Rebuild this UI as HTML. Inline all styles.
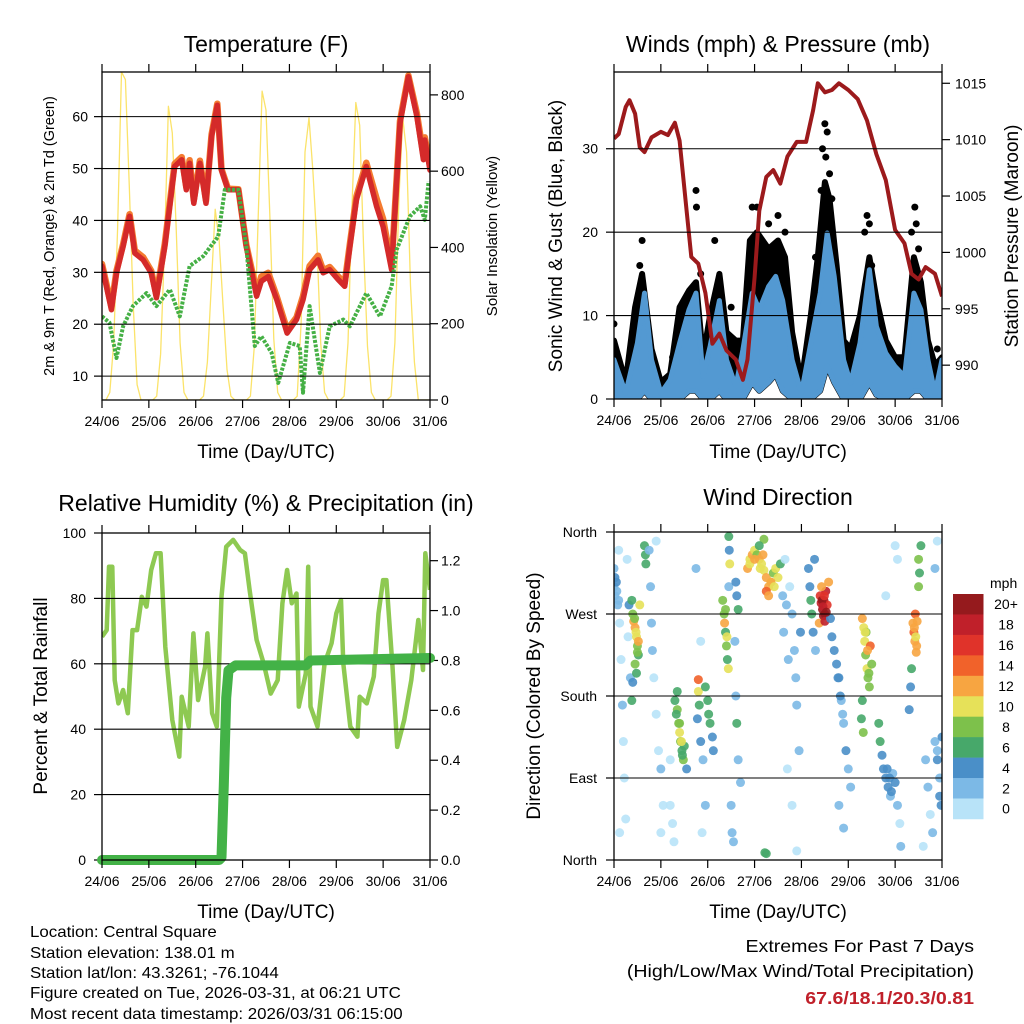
<!DOCTYPE html>
<html><head><meta charset="utf-8"><title>Weather station plots</title>
<style>
html,body{margin:0;padding:0;background:#fff;}
svg{display:block;font-family:"Liberation Sans",sans-serif;}
</style></head>
<body>
<svg id="fig" width="1024" height="1024" viewBox="0 0 1024 1024" xmlns="http://www.w3.org/2000/svg">
<rect x="0" y="0" width="1024" height="1024" fill="#fff"/>
<text x="266" y="52" font-size="23" text-anchor="middle">Temperature (F)</text>
<text x="778" y="52" font-size="23" text-anchor="middle">Winds (mph) &amp; Pressure (mb)</text>
<text x="266" y="511" font-size="23" text-anchor="middle">Relative Humidity (%) &amp; Precipitation (in)</text>
<text x="778" y="505" font-size="23" text-anchor="middle">Wind Direction</text>

<text x="266" y="458" font-size="19" text-anchor="middle">Time (Day/UTC)</text>
<text x="778" y="458" font-size="19" text-anchor="middle">Time (Day/UTC)</text>
<text x="266" y="918" font-size="19" text-anchor="middle">Time (Day/UTC)</text>
<text x="778" y="918" font-size="19" text-anchor="middle">Time (Day/UTC)</text>

<text transform="translate(54,236) rotate(-90)" font-size="14.5" text-anchor="middle">2m &amp; 9m T (Red, Orange) &amp; 2m Td (Green)</text>
<text transform="translate(497,236) rotate(-90)" font-size="15" text-anchor="middle">Solar Insolation (Yellow)</text>
<text transform="translate(562,236) rotate(-90)" font-size="19" text-anchor="middle">Sonic Wind &amp; Gust (Blue, Black)</text>
<text transform="translate(1018,236) rotate(-90)" font-size="19" text-anchor="middle">Station Pressure (Maroon)</text>
<text transform="translate(47,696) rotate(-90)" font-size="19" text-anchor="middle">Percent &amp; Total Rainfall</text>
<text transform="translate(540,696) rotate(-90)" font-size="19" text-anchor="middle">Direction (Colored By Speed)</text>

<g font-size="15.5" transform="translate(30,0) scale(1.09,1)">
<text x="0" y="937">Location: Central Square</text>
<text x="0" y="958">Station elevation: 138.01 m</text>
<text x="0" y="978">Station lat/lon: 43.3261; -76.1044</text>
<text x="0" y="998">Figure created on Tue, 2026-03-31, at 06:21 UTC</text>
<text x="0" y="1019">Most recent data timestamp: 2026/03/31 06:15:00</text>
</g>
<g font-size="17.5" text-anchor="end" transform="translate(974,0) scale(1.12,1)">
<text x="0" y="952">Extremes For Past 7 Days</text>
<text x="0" y="977">(High/Low/Max Wind/Total Precipitation)</text>
<text x="0" y="1004" fill="#c0202a" font-weight="bold">67.6/18.1/20.3/0.81</text>
</g>
</svg>
<script>
// ---------- DATA ----------
const dayLabels = ["24/06","25/06","26/06","27/06","28/06","29/06","30/06","31/06"];
const tempTicks = [10,20,30,40,50,60];
const solarTicks = [0,200,400,600,800];
const windTicks = [0,10,20,30];
const presTicks = [990,995,1000,1005,1010,1015];
const rhTicks = [0,20,40,60,80,100];
const rainTicks = [0.0,0.2,0.4,0.6,0.8,1.0,1.2];
const rainTickLabels = ["0.0","0.2","0.4","0.6","0.8","1.0","1.2"];
const dirTicks = [0,90,180,270,360];
const dirTickLabels = ["North","East","South","West","North"];

const tDays = [0,0.2,0.31,0.45,0.59,0.7,0.88,1.05,1.16,1.34,1.55,1.7,1.8,1.87,1.96,2.09,2.22,2.34,2.46,2.55,2.69,2.91,3.08,3.3,3.4,3.55,3.73,3.95,4.15,4.29,4.43,4.61,4.72,4.86,5.04,5.18,5.29,5.43,5.64,5.86,6.0,6.18,6.36,6.54,6.72,6.86,6.89,7.0];
const tempRed = [31.2,22.8,29.9,35,40.8,33.7,32.4,29.9,25.1,35,50.4,51.7,45.9,51,43.3,51,43.3,56.2,62.2,49.7,45.9,45.9,35,25.4,28.3,29.2,24.7,18.3,20.9,24.7,30.5,32.4,29.9,30.5,28.6,27.3,35,44,50.4,42.7,38.8,30.5,58.7,67.7,60,51.7,55.5,49.7];
const tempOrange = [31.6,23.4,30.3,35.4,41.2,34.2,32.9,30.3,25.6,35.5,50.9,52.2,46.4,51.6,43.9,51.5,43.8,56.6,62.5,49.9,46.1,46,35.3,26.2,29.2,29.9,25.3,18.9,21.3,25.4,31.2,33.2,30.4,31,29.2,27.9,35.5,44.6,51.1,44.2,40.3,31.3,59.2,67.9,60.6,52.6,56,50.5];
const tdDays = [0,0.16,0.31,0.45,0.66,0.95,1.16,1.45,1.66,1.87,2.16,2.48,2.62,2.91,3.08,3.26,3.4,3.62,3.76,4.01,4.22,4.29,4.43,4.65,4.86,5.15,5.29,5.64,5.93,6.18,6.29,6.57,6.79,6.89,6.97];
const tempDew = [21.5,20.3,13.5,19.6,23.5,26,23.5,26.7,21.5,31.2,33.1,36.9,45.9,45.9,35,15.8,17.7,14.5,8.7,16.4,15.8,6.8,23.5,10.6,19.6,20.9,19.6,26,21.5,27.3,34.4,40.8,42.7,40.1,47.5];
const solarStep = 1/12; // 2-hourly samples
const solar = [
0,0,20,150,450,860,840,560,250,40,0,0,
0,0,10,120,400,770,700,450,150,20,0,0,
0,0,10,100,300,500,420,250,80,10,0,0,
0,0,10,140,480,810,760,480,160,20,0,0,
0,0,10,200,650,740,600,420,150,20,0,0,
0,0,10,150,500,780,720,400,140,20,0,0,
0,0,10,150,520,740,650,300,100,0,0,0,0];

const wDays = [0,0.25,0.5,0.65,0.8,1.0,1.2,1.4,1.6,1.75,1.9,2.05,2.25,2.4,2.6,2.75,2.95,3.1,3.3,3.45,3.6,3.8,4.0,4.2,4.4,4.55,4.7,4.9,5.05,5.25,5.45,5.6,5.8,6.0,6.2,6.4,6.55,6.7,6.85,7.0];
const windHigh = [4.7,0.7,6.7,12.7,4.7,0.7,2.3,6.7,10.7,12.7,2.7,6.3,11.8,4.7,1.5,5.9,12.7,10.7,13.5,14.7,11.8,4.7,0.7,6.7,12.7,19.9,14.7,4.7,1.9,6.7,15.5,8.7,5.5,3.9,2.7,12.7,10.7,4.7,0.7,4.7];
const windLow = [0,0,0,1,0,0,0,0,1,1,0,0,1,0,0,0,2,1,2,3,1,0,0,0,1,4,2,0,0,0,2,0.5,0,0,0,1,1,0,0,0];
const gDays = [0,0.25,0.45,0.6,0.8,1.0,1.2,1.4,1.6,1.75,1.9,2.05,2.25,2.4,2.6,2.75,2.9,3.05,3.3,3.5,3.65,3.8,4.0,4.2,4.35,4.5,4.6,4.75,4.9,5.05,5.25,5.45,5.6,5.8,6.0,6.2,6.4,6.55,6.7,6.85,7.0];
const gust = [7,2,11,15,6,2,3,11,13,14,5,10,15,8,7,7,19,20,18,19,17,8,2,10,17,26,24,16,7,6,10,17,12,7,5,5,17,14,7,4,5];
const gustOutDays = [0,0.55,0.6,1.25,1.75,1.76,1.85,2.15,2.5,2.95,3.05,3.3,3.5,3.65,4.3,4.42,4.45,4.5,4.52,4.55,4.6,4.65,5.35,5.4,5.45,5.5,6.35,6.42,6.45,6.5,6.9];
const gustOut = [9,16,19,5,25,23,15,19,11,23,23,21,22,20,17,25,30,33,29,32,27,24,20,22,21,16,20,23,21,18,6];
const pDays = [0,0.1,0.25,0.33,0.45,0.55,0.65,0.8,1.0,1.15,1.3,1.4,1.55,1.65,1.8,1.95,2.1,2.25,2.4,2.6,2.75,2.85,3.0,3.1,3.25,3.4,3.55,3.7,3.9,4.1,4.25,4.35,4.5,4.65,4.8,5.0,5.2,5.4,5.6,5.8,6.0,6.2,6.35,6.5,6.65,6.85,7.0];
const pressure = [1010.1,1010.5,1012.9,1013.5,1012.3,1009.3,1008.9,1010.2,1010.7,1010.4,1011.5,1009.9,1003.7,999.6,999,996.4,991.9,992.8,991.3,990.5,988.7,990.5,997.8,1003.7,1006.7,1007.3,1006.1,1008.5,1009.8,1009.8,1012.6,1015,1014.2,1014.4,1015,1014.4,1013.6,1011.7,1008.7,1006.4,1002,1000.8,998.1,997.6,998.7,998.1,996.1];

const rhDays = [0,0.1,0.15,0.22,0.27,0.35,0.45,0.55,0.65,0.75,0.85,0.95,1.05,1.15,1.25,1.35,1.5,1.65,1.7,1.85,1.95,2.05,2.2,2.25,2.35,2.45,2.55,2.65,2.8,2.95,3.05,3.15,3.3,3.45,3.6,3.75,3.85,3.95,4.05,4.15,4.2,4.35,4.4,4.45,4.6,4.75,4.9,5.0,5.1,5.15,5.3,5.45,5.5,5.65,5.8,5.9,6.0,6.07,6.2,6.3,6.45,6.6,6.75,6.85,6.9,7.0];
const rh = [68.3,70.3,89.7,89.7,55,47.9,52,44.9,70.3,70.3,80.5,77.5,88.7,93.8,93.8,65.2,42.8,31.6,49.9,40.8,69.3,48.9,59.1,69.3,44.9,40.8,80.5,95.8,97.9,94.8,93.8,82.6,67.3,60.1,50.9,55,78.5,88.7,78.5,81.5,46.9,57.1,89.7,46.9,40.8,60.1,66.3,75.4,79.5,60.1,40.8,37.7,49.9,47.9,56.1,75.4,85.6,85.6,59.1,34.6,42.8,55,73.4,58.1,93.8,82.6];
const rainDays = [0,2.5,2.55,2.6,2.65,2.7,2.85,4.35,4.45,7.0];
const rain = [0,0,0.01,0.3,0.65,0.76,0.78,0.78,0.8,0.81];

const dirDay = [0,0,0.02,0.05,0.08,0.1,0.12,0.15,0.18,0.2,0.22,0.25,0.28,0.3,0.12,0.32,0.35,
0.38,0.4,0.42,0.45,0.48,0.5,0.52,0.45,0.48,0.4,0.38,0.55,
0.65,0.67,0.68,0.75,0.78,0.8,0.82,0.85,0.9,0.95,0.9,1.0,1.05,1.0,
1.3,1.35,1.38,1.4,1.42,1.45,1.48,1.5,1.35,1.55,1.2,1.2,1.25,1.28,
1.8,1.8,1.82,1.78,1.85,1.9,1.95,2.0,2.02,2.05,2.1,2.12,1.75,1.85,1.95,1.88,
2.32,2.35,2.36,2.38,2.4,2.42,2.44,2.45,2.46,2.47,2.45,2.5,2.52,2.55,
2.6,2.62,2.65,2.58,2.6,2.62,2.65,2.7,
2.85,2.9,2.95,3.0,3.05,3.1,3.15,3.2,3.25,3.3,3.35,3.4,3.45,3.5,3.55,3.2,3.1,3.25,3.3,3.22,3.25,
3.6,3.62,3.65,3.75,3.8,3.85,3.88,3.9,3.95,3.8,3.9,3.98,3.7,
4.15,4.18,4.2,4.22,4.25,4.3,4.28,
4.4,4.42,4.45,4.48,4.5,4.52,4.55,4.47,4.43,4.58,4.38,4.5,
4.62,4.65,4.7,4.75,4.8,4.85,4.9,4.95,5.0,5.05,4.8,4.9,
5.3,5.33,5.35,5.37,5.4,5.42,5.45,5.47,5.38,5.3,5.28,5.32,5.5,
5.65,5.68,5.72,5.75,5.8,5.85,5.9,5.95,6.0,6.05,6.1,6.12,6.0,6.05,5.8,
6.38,6.4,6.42,6.45,6.43,6.47,6.35,6.33,6.3,6.5,6.52,6.5,6.55,
6.65,6.7,6.75,6.8,6.85,6.9,6.95,7.0,6.98,6.9,6.85,6.6,
0.02,0.06,0.1,0.44,0.47,0.52,0.5,1.4,1.44,1.46,1.33,2.38,2.41,2.9,3.0,3.12,3.18,3.35,3.42,4.44,4.46,4.49,4.53,5.36,5.41,5.44,6.41,6.44,6.46,3.68,3.72,4.78,4.83,4.88,5.83,5.88,5.92,6.9,6.95];
const dirDeg = [320,300,290,305,280,340,260,220,170,130,90,45,330,245,30,280,200,
285,270,262,255,245,235,225,215,205,195,175,280,
345,335,325,340,300,260,230,200,160,120,350,100,60,30,
175,165,150,140,130,120,110,125,185,100,110,60,40,20,
198,185,170,155,130,110,190,175,160,150,135,120,320,240,60,30,
285,270,260,250,235,220,210,355,340,325,300,60,30,20,
305,290,275,240,180,150,110,85,
320,330,335,340,335,330,325,318,310,300,305,315,320,310,325,352,345,295,290,8,7,
290,250,330,300,270,230,200,170,120,60,10,250,100,
320,300,285,270,250,230,330,
290,282,275,285,270,295,280,268,300,305,260,262,
265,245,230,215,200,175,150,120,100,80,60,35,
265,255,240,225,210,200,190,235,250,175,155,140,215,
150,130,115,100,90,80,70,95,85,60,40,15,345,330,290,
260,250,240,228,270,262,210,190,165,300,315,330,345,
110,80,50,30,130,110,90,135,60,350,320,15,
310,295,285,265,250,240,228,150,130,115,160,275,245,325,330,320,335,305,300,285,278,290,272,250,230,205,255,245,235,280,220,200,180,160,100,90,75,120,70];
const dirSpd = [3,2,3,4,2,1,1,1,2,1,1,0,1,1,0,4,3,
6,8,12,12,10,8,7,9,7,5,6,10,
6,6,6,3,2,2,3,1,0,1,1,2,1,0,
6,8,8,10,8,6,8,6,6,5,1,1,1,0,
14,10,6,4,4,3,6,6,6,6,4,4,2,1,2,1,
8,8,12,6,8,7,10,6,4,10,3,3,2,3,
4,4,6,2,3,6,3,2,
12,10,12,10,8,12,10,10,12,12,10,8,10,10,6,8,6,14,12,6,6,
2,2,1,1,2,3,3,2,2,1,1,4,1,
4,4,6,6,4,2,4,
16,18,20,20,20,18,16,20,12,12,12,18,
4,4,4,4,4,2,2,4,2,2,2,2,
12,10,10,8,10,8,8,14,8,6,6,8,8,
6,6,4,4,4,4,2,2,4,2,1,2,1,1,1,
12,14,12,12,14,12,6,4,4,8,6,8,6,
2,2,1,2,3,4,2,4,4,1,2,1,
4,3,2,8,10,12,8,8,10,6,6,8,10,10,12,10,12,12,10,20,18,16,20,10,12,8,12,10,12,2,2,4,4,2,4,4,4,2,4];
const speedColors = ["#b8e3f8","#7cb9e6","#4a8fc8","#47a86a","#7dc14b","#e6e159","#f7a541","#f1622a","#e0332a","#c0202a","#951a1d"];
const speedLabels = ["0","2","4","6","8","10","12","14","16","18","20+"];

// ---------- HELPERS ----------
const NS = "http://www.w3.org/2000/svg";
const svg = document.getElementById("fig");
function mk(tag, attrs, parent){
  const e = document.createElementNS(NS, tag);
  for (const k in attrs) e.setAttribute(k, attrs[k]);
  (parent || svg).appendChild(e);
  return e;
}
function lin(d0,d1,r0,r1){ return v => r0 + (v-d0)/(d1-d0)*(r1-r0); }
function pathFrom(xs, ys, fx, fy){
  let s = "";
  for (let i=0;i<xs.length;i++) s += (i?"L":"M") + fx(xs[i]).toFixed(1) + "," + fy(ys[i]).toFixed(1);
  return s;
}

function panel(name, x0, x1, y0, y1){
  const g = mk("g", {});
  
  
  const clip = mk("clipPath", {id: name+"-clip"}, g);
  mk("rect", {x:x0, y:y0, width:x1-x0, height:y1-y0}, clip);
  const plot = mk("g", {"clip-path":"url(#"+name+"-clip)"}, g);
  
  
  return {g, plot, x0, x1, y0, y1, fx: lin(0,7,x0,x1)};
}
function xAxis(P){
  for (let i=0;i<dayLabels.length;i++){
    const x = P.fx(i);
    const t1 = mk("line", {x1:x, x2:x, y1:P.y1, y2:P.y1+8, stroke:"#000", "stroke-width":1.2}, P.g);
    
    
    const t2 = mk("line", {x1:x, x2:x, y1:P.y0, y2:P.y0-8, stroke:"#000", "stroke-width":1.2}, P.g);
    
    
    const lb = mk("text", {x:x, y:P.y1+26, "font-size":14, "text-anchor":"middle"}, P.g);
    
    
    lb.textContent = dayLabels[i];
  }
}
function yAxis(P, ticks, labels, fy, side, grid, lx){
  for (let i=0;i<ticks.length;i++){
    const y = fy(ticks[i]);
    if (grid){
      const gl = mk("line", {x1:P.x0, x2:P.x1, y1:y, y2:y, stroke:"#000", "stroke-width":1.1}, P.g);
      
      
    }
    const xe = side==="left" ? P.x0 : P.x1;
    const d = side==="left" ? -8 : 8;
    const tk = mk("line", {x1:xe, x2:xe+d, y1:y, y2:y, stroke:"#000", "stroke-width":1.2}, P.g);
    
    
    const lb = mk("text", {x:lx, y:y+5, "font-size":14, "text-anchor": side==="left"?"end":"start"}, P.g);
    
    
    lb.textContent = labels[i];
  }
}
function frame(P){
  const r = mk("rect", {x:P.x0, y:P.y0, width:P.x1-P.x0, height:P.y1-P.y0, fill:"none", stroke:"#000", "stroke-width":1.3}, P.g);
  
  
}

// ---------- PANEL 1: TEMPERATURE ----------
const P1 = panel("temperature-panel", 102, 430, 72, 400);
const fyT = lin(5.4, 68.6, 400, 72);
const fyS = lin(0, 860, 400, 72);
yAxis(P1, tempTicks, tempTicks.map(String), fyT, "left", true, 88);
yAxis(P1, solarTicks, solarTicks.map(String), fyS, "right", false, 441);
{
  const sx = solar.map((v,i)=>i*solarStep);
  const s = mk("path", {d: pathFrom(sx, solar, P1.fx, fyS), fill:"none", stroke:"#fbe36a", "stroke-width":1.3, "stroke-linejoin":"round"}, P1.plot);
  
  
  const o = mk("path", {d: pathFrom(tDays, tempOrange, P1.fx, fyT), fill:"none", stroke:"#f47b30", "stroke-width":6.5, "stroke-linejoin":"round", "stroke-linecap":"round"}, P1.plot);
  
  
  const r = mk("path", {d: pathFrom(tDays, tempRed, P1.fx, fyT), fill:"none", stroke:"#d42a2a", "stroke-width":5.5, "stroke-linejoin":"round", "stroke-linecap":"round"}, P1.plot);
  
  
  const g = mk("path", {d: pathFrom(tdDays, tempDew, P1.fx, fyT), fill:"none", stroke:"#45b045", "stroke-width":4, "stroke-dasharray":"3 1.5", "stroke-linejoin":"round"}, P1.plot);
  
  
}
xAxis(P1); frame(P1);

// ---------- PANEL 2: WINDS ----------
const P2 = panel("winds-panel", 614, 942, 72, 399);
const fyW = lin(0, 39.2, 399, 72);
const fyP = lin(987, 1016, 399, 72);
yAxis(P2, windTicks, windTicks.map(String), fyW, "left", true, 598);
yAxis(P2, presTicks, presTicks.map(String), fyP, "right", false, 955);
{
  let d = pathFrom(gDays, gust, P2.fx, fyW);
  for (let i=wDays.length-1;i>=0;i--) d += "L" + P2.fx(wDays[i]).toFixed(1) + "," + fyW(windLow[i]).toFixed(1);
  const ge = mk("path", {d: d+"Z", fill:"#000", stroke:"#000", "stroke-width":6, "stroke-linejoin":"round"}, P2.plot);
  
  
  for (let i=0;i<gustOutDays.length;i++){
    const c = mk("circle", {cx:P2.fx(gustOutDays[i]), cy:fyW(gustOut[i]), r:3.5, fill:"#000"}, P2.plot);
    
    
  }
  let b = pathFrom(wDays, windHigh, P2.fx, fyW);
  for (let i=wDays.length-1;i>=0;i--) b += "L" + P2.fx(wDays[i]).toFixed(1) + "," + fyW(windLow[i]).toFixed(1);
  const wb = mk("path", {d: b+"Z", fill:"#5399d2", stroke:"#5399d2", "stroke-width":5, "stroke-linejoin":"round"}, P2.plot);
  
  
  const p = mk("path", {d: pathFrom(pDays, pressure, P2.fx, fyP), fill:"none", stroke:"#9c1a1c", "stroke-width":4, "stroke-linejoin":"round"}, P2.plot);
  
  
}
xAxis(P2); frame(P2);

// ---------- PANEL 3: RH & PRECIP ----------
const P3 = panel("humidity-panel", 102, 430, 533, 860);
const fyRH = lin(0, 100, 860, 533);
const fyR = lin(0, 1.311, 860, 533);
yAxis(P3, rhTicks, rhTicks.map(String), fyRH, "left", true, 86);
yAxis(P3, rainTicks, rainTickLabels, fyR, "right", false, 441);
{
  const h = mk("path", {d: pathFrom(rhDays, rh, P3.fx, fyRH), fill:"none", stroke:"#8ec952", "stroke-width":4.5, "stroke-linejoin":"round"}, P3.plot);
  
  
  const r = mk("path", {d: pathFrom(rainDays, rain, P3.fx, fyR), fill:"none", stroke:"#43b247", "stroke-width":10, "stroke-linejoin":"round", "stroke-linecap":"round"}, P3.g);
  
  
}
xAxis(P3); frame(P3);

// ---------- PANEL 4: WIND DIRECTION ----------
const P4 = panel("wind-direction-panel", 614, 942, 532, 860);
const fyD = lin(0, 360, 860, 532);
yAxis(P4, dirTicks, dirTickLabels, fyD, "left", true, 597);
{
  for (let i=0;i<dirDay.length;i++){
    const ci = Math.min(10, Math.floor(dirSpd[i]/2));
    const c = mk("circle", {cx:P4.fx(dirDay[i]), cy:fyD(dirDeg[i]), r:4.5, fill:speedColors[ci], "fill-opacity":0.9}, P4.plot);
    
    
  }
}
xAxis(P4); frame(P4);

// colorbar
{
  const cb = mk("g", {});
  
  
  const t = mk("text", {x:990, y:588, "font-size":14}, cb);
  
  
  t.textContent = "mph";
  const top = 594, bh = 20.45;
  for (let k=0;k<speedColors.length;k++){
    const idx = speedColors.length-1-k;
    const r = mk("rect", {x:953, y:top+k*bh, width:30.5, height:bh+0.3, fill:speedColors[idx]}, cb);
    
    
    const l = mk("text", {x:1006, y:top+k*bh+bh/2+5, "font-size":14, "text-anchor":"middle"}, cb);
    
    
    l.textContent = speedLabels[idx];
  }
}
</script>
</body></html>
